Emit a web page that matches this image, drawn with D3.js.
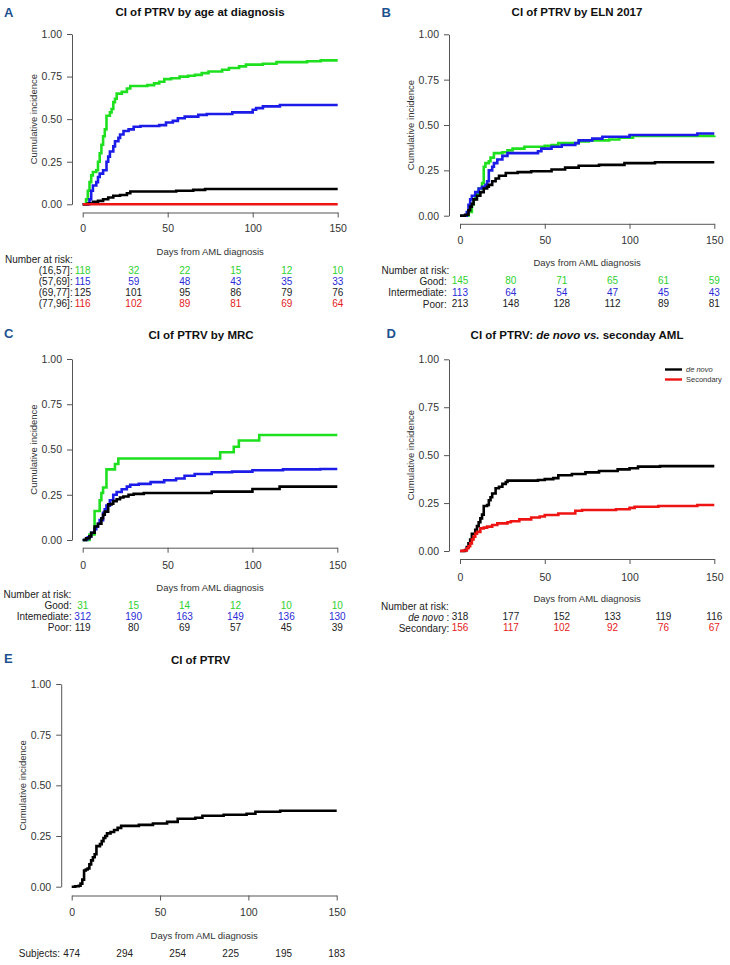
<!DOCTYPE html>
<html>
<head>
<meta charset="utf-8">
<script src="https://cdn.jsdelivr.net/npm/d3@7"></script>
<style>
  html, body { margin: 0; padding: 0; background: #fff; }
  svg { display: block; font-family: "Liberation Sans", Arial, Helvetica, sans-serif; }
</style>
</head>
<body>
<div id="chart"></div>
<script>
// ---- shared ticks ----
const yTicks = [0, 0.25, 0.5, 0.75, 1];
const xTicks = [0, 50, 100, 150];
const riskTimes = [0, 30, 60, 90, 120, 150];

// ---- A: age at diagnosis ----
const ageGroups = ["(16,57]", "(57,69]", "(69,77]", "(77,96]"];
const ageCurve1657 = [[0,0],[2,0.03],[3,0.08],[4,0.13],[5,0.17],[6,0.19],[8,0.2],[9,0.25],[10,0.3],[11,0.35],[12,0.4],[13,0.44],[14,0.52],[16,0.54],[17,0.56],[18,0.6],[19,0.62],[20,0.65],[23,0.66],[26,0.68],[28,0.695],[38,0.7],[42,0.71],[45,0.72],[48,0.735],[52,0.74],[57,0.75],[62,0.755],[66,0.76],[70,0.77],[74,0.78],[82,0.79],[86,0.8],[92,0.81],[96,0.82],[106,0.825],[114,0.835],[132,0.84],[140,0.845],[150,0.845]];
const ageCurve5769 = [[0,0],[4,0.03],[5,0.08],[6,0.11],[8,0.13],[9,0.16],[10,0.18],[12,0.2],[14,0.25],[15,0.28],[16,0.31],[18,0.34],[19,0.37],[21,0.39],[22,0.41],[24,0.43],[27,0.44],[30,0.455],[34,0.46],[45,0.465],[49,0.48],[53,0.49],[56,0.505],[60,0.515],[68,0.525],[73,0.53],[88,0.54],[100,0.555],[102,0.565],[106,0.575],[116,0.583],[150,0.583]];
const ageCurve6977 = [[0,0],[3,0.005],[6,0.015],[9,0.02],[12,0.03],[15,0.04],[18,0.05],[22,0.055],[26,0.065],[28,0.075],[55,0.08],[65,0.085],[72,0.09],[150,0.09]];
const ageCurve7796 = [[0,0],[150,0]];
const ageRisk1657 = [118, 32, 22, 15, 12, 10];
const ageRisk5769 = [115, 59, 48, 43, 35, 33];
const ageRisk6977 = [125, 101, 95, 86, 79, 76];
const ageRisk7796 = [116, 102, 89, 81, 69, 64];

// ---- B: ELN 2017 ----
const elnGroups = ["Good", "Intermediate", "Poor"];
const elnCurveGood = [[0,0],[5,0.02],[7,0.06],[8,0.09],[9,0.12],[11,0.15],[13,0.18],[14,0.27],[15,0.29],[17,0.3],[18,0.32],[20,0.345],[25,0.35],[28,0.36],[31,0.37],[38,0.38],[50,0.385],[54,0.39],[58,0.4],[70,0.41],[76,0.415],[88,0.42],[94,0.43],[102,0.44],[150,0.442]];
const elnCurveInt = [[0,0],[4,0.02],[5,0.06],[6,0.09],[7,0.11],[9,0.13],[11,0.15],[13,0.16],[15,0.17],[16,0.19],[17,0.25],[19,0.27],[20,0.29],[22,0.31],[25,0.33],[28,0.345],[46,0.355],[48,0.37],[54,0.38],[60,0.39],[68,0.4],[70,0.415],[78,0.425],[84,0.435],[100,0.445],[140,0.453],[150,0.453]];
const elnCurvePoor = [[0,0],[3,0.005],[5,0.03],[6,0.05],[7,0.065],[8,0.09],[10,0.11],[12,0.13],[14,0.15],[16,0.16],[17,0.17],[19,0.19],[21,0.205],[23,0.22],[27,0.235],[34,0.24],[42,0.245],[54,0.255],[62,0.265],[70,0.275],[82,0.28],[97,0.29],[115,0.295],[150,0.295]];
const elnRiskGood = [145, 80, 71, 65, 61, 59];
const elnRiskInt = [113, 64, 54, 47, 45, 43];
const elnRiskPoor = [213, 148, 128, 112, 89, 81];

// ---- C: MRC ----
const mrcGroups = ["Good", "Intemediate", "Poor"];
const mrcCurveGood = [[0,0],[4,0.03],[7,0.16],[10,0.22],[11,0.26],[12,0.29],[14,0.39],[19,0.42],[21,0.45],[81,0.485],[89,0.515],[92,0.55],[104,0.58],[150,0.58]];
const mrcCurveInt = [[0,0],[2,0.005],[3,0.015],[4,0.02],[5,0.04],[7,0.06],[8,0.075],[9,0.09],[10,0.11],[12,0.15],[13,0.17],[14,0.19],[16,0.22],[18,0.25],[20,0.265],[23,0.28],[26,0.295],[28,0.305],[33,0.31],[40,0.32],[48,0.33],[55,0.34],[60,0.355],[66,0.365],[76,0.374],[88,0.378],[100,0.385],[118,0.39],[140,0.392],[150,0.392]];
const mrcCurvePoor = [[0,0],[2,0.01],[4,0.02],[5,0.04],[7,0.075],[9,0.09],[11,0.12],[12,0.14],[13,0.157],[15,0.197],[17,0.2],[18,0.215],[20,0.225],[22,0.235],[24,0.24],[27,0.25],[30,0.255],[36,0.26],[76,0.267],[100,0.282],[116,0.295],[150,0.295]];
const mrcRiskGood = [31, 15, 14, 12, 10, 10];
const mrcRiskInt = [312, 190, 163, 149, 136, 130];
const mrcRiskPoor = [119, 80, 69, 57, 45, 39];

// ---- D: de novo vs secondary ----
const originGroups = ["de novo", "Secondary"];
const originCurveDeNovo = [[0,0],[3,0.005],[4,0.02],[5,0.04],[6,0.06],[7,0.09],[9,0.11],[10,0.13],[11,0.15],[12,0.17],[13,0.19],[14,0.235],[16,0.24],[17,0.265],[18,0.28],[19,0.3],[21,0.327],[23,0.335],[25,0.35],[27,0.36],[28,0.367],[46,0.37],[50,0.375],[55,0.38],[58,0.395],[66,0.402],[74,0.41],[82,0.417],[93,0.426],[100,0.432],[105,0.44],[118,0.443],[150,0.443]];
const originCurveSecondary = [[0,0],[2,0.003],[4,0.014],[5,0.025],[6,0.04],[7,0.06],[8,0.075],[9,0.09],[10,0.1],[12,0.118],[14,0.122],[16,0.127],[19,0.136],[22,0.144],[28,0.15],[30,0.155],[35,0.165],[42,0.175],[47,0.18],[50,0.188],[58,0.196],[68,0.21],[72,0.214],[92,0.218],[100,0.225],[103,0.231],[117,0.235],[140,0.24],[150,0.24]];
const originRiskDeNovo = [318, 177, 152, 133, 119, 116];
const originRiskSecondary = [156, 117, 102, 92, 76, 67];

// ---- E: all patients ----
const allCurve = [[0,0],[2,0.002],[4,0.005],[5,0.015],[6,0.035],[7,0.08],[8,0.085],[9,0.09],[10,0.11],[11,0.13],[12,0.145],[13,0.16],[14,0.2],[16,0.21],[17,0.225],[18,0.24],[19,0.25],[20,0.263],[22,0.27],[24,0.28],[26,0.29],[28,0.3],[38,0.305],[46,0.312],[54,0.32],[60,0.335],[70,0.34],[74,0.35],[86,0.355],[99,0.36],[104,0.37],[118,0.375],[150,0.375]];
const allRisk = [474, 294, 254, 225, 195, 183];

const colors = { green: '#1fe01f', blue: '#1c1ce8', black: '#000000', red: '#ee1414' };
const textColors = { green: '#2fd22f', blue: '#2a2ad8', black: '#222222', red: '#e42020' };

// panel layouts (pixels)
const panels = [
  { letter: 'A', letterX: 4, letterY: 12, title: [['CI of PTRV by age at diagnosis', false]], titleX: 200, titleY: 11.5,
    x0: 82.7, x1: 337.7, y0: 204.3, y1: 34, yAxisX: 72, xAxisY: 212.5, tickLabelY: 228.3, xLabelY: 251.8, yLabelX: 33.3,
    headerX: 5, headerY: 259, rowY: 270, rowStep: 11.1, rowLabelRight: 72.7, header: 'Number at risk:',
    series: [
      { name: ageGroups[0], curve: ageCurve1657, risk: ageRisk1657, color: 'green' },
      { name: ageGroups[1], curve: ageCurve5769, risk: ageRisk5769, color: 'blue' },
      { name: ageGroups[2], curve: ageCurve6977, risk: ageRisk6977, color: 'black' },
      { name: ageGroups[3], curve: ageCurve7796, risk: ageRisk7796, color: 'red' }
    ] },
  { letter: 'B', letterX: 381.5, letterY: 12, title: [['CI of PTRV by ELN 2017', false]], titleX: 577, titleY: 11.5,
    x0: 460, x1: 714.3, y0: 215.7, y1: 34.3, yAxisX: 449, xAxisY: 223.8, tickLabelY: 240.5, xLabelY: 262.7, yLabelX: 410.3,
    headerX: 381.5, headerY: 270, rowY: 280.9, rowStep: 11.4, rowLabelRight: 446.7, header: 'Number at risk:',
    series: [
      { name: elnGroups[0], curve: elnCurveGood, risk: elnRiskGood, color: 'green' },
      { name: elnGroups[1], curve: elnCurveInt, risk: elnRiskInt, color: 'blue' },
      { name: elnGroups[2], curve: elnCurvePoor, risk: elnRiskPoor, color: 'black' }
    ] },
  { letter: 'C', letterX: 4, letterY: 333.7, title: [['CI of PTRV by MRC', false]], titleX: 201, titleY: 335.3,
    x0: 82.7, x1: 337.3, y0: 540, y1: 359, yAxisX: 72, xAxisY: 547.7, tickLabelY: 565, xLabelY: 587.3, yLabelX: 33.3,
    headerX: 3.5, headerY: 594.3, rowY: 605, rowStep: 11, rowLabelRight: 71.7, header: 'Number at risk:',
    series: [
      { name: mrcGroups[0], curve: mrcCurveGood, risk: mrcRiskGood, color: 'green' },
      { name: mrcGroups[1], curve: mrcCurveInt, risk: mrcRiskInt, color: 'blue' },
      { name: mrcGroups[2], curve: mrcCurvePoor, risk: mrcRiskPoor, color: 'black' }
    ] },
  { letter: 'D', letterX: 386.5, letterY: 333.7, title: [['CI of PTRV: ', false], ['de novo', true], [' ', false], ['vs.', true], [' seconday AML', false]], titleX: 577, titleY: 335.3,
    x0: 460, x1: 714.3, y0: 551, y1: 359.3, yAxisX: 449, xAxisY: 559, tickLabelY: 576.7, xLabelY: 598.3, yLabelX: 410.3,
    headerX: 381, headerY: 606, rowY: 616.5, rowStep: 11, rowLabelRight: 449.3, header: 'Number at risk:',
    legend: { x: 665, y: 369.5, step: 10, len: 17 },
    series: [
      { name: originGroups[0], curve: originCurveDeNovo, risk: originRiskDeNovo, color: 'black', italic: true },
      { name: originGroups[1], curve: originCurveSecondary, risk: originRiskSecondary, color: 'red' }
    ] },
  { letter: 'E', letterX: 4, letterY: 658.7, title: [['CI of PTRV', false]], titleX: 200.5, titleY: 660.3,
    x0: 71.7, x1: 336.7, y0: 886.7, y1: 684, yAxisX: 61.2, xAxisY: 895.5, tickLabelY: 911.7, xLabelY: 935, yLabelX: 22.2,
    header: null, rowY: 953.3, rowStep: 11, rowLabelRight: 60,
    series: [
      { name: 'Subjects', curve: allCurve, risk: allRisk, color: 'black', textColor: 'black' }
    ] }
];

const svg = d3.select('#chart').append('svg')
  .attr('width', 730)
  .attr('height', 965);

function drawPanel(p) {
  const g = svg.append('g');
  const x = d3.scaleLinear().domain([0, 150]).range([p.x0, p.x1]);
  const y = d3.scaleLinear().domain([0, 1]).range([p.y0, p.y1]);

  // panel letter
  g.append('text')
    .attr('x', p.letterX).attr('y', p.letterY)
    .attr('dominant-baseline', 'central')
    .style('font-size', '13px').style('font-weight', 'bold')
    .attr('fill', '#1d5290')
    .text(p.letter);

  // title
  const t = g.append('text')
    .attr('x', p.titleX).attr('y', p.titleY)
    .attr('text-anchor', 'middle')
    .attr('dominant-baseline', 'central')
    .style('font-size', '11.5px').style('font-weight', 'bold')
    .attr('fill', '#111');
  p.title.forEach(([s, it]) => {
    t.append('tspan').style('font-style', it ? 'italic' : 'normal').text(s);
  });

  // axes
  const yAxis = g.append('g')
    .attr('transform', `translate(${p.yAxisX},0)`)
    .call(d3.axisLeft(y).tickValues(yTicks).tickFormat(d3.format('.2f')).tickSize(5).tickSizeOuter(0).tickPadding(5));
  const xAxis = g.append('g')
    .attr('transform', `translate(0,${p.xAxisY})`)
    .call(d3.axisBottom(x).tickValues(xTicks).tickSize(5).tickSizeOuter(0));
  [xAxis, yAxis].forEach(a => {
    a.select('.domain').attr('stroke', '#555');
    a.selectAll('.tick line').attr('stroke', '#555');
    a.selectAll('.tick text')
      .attr('fill', '#333')
      .style('font-size', '10.5px')
      .style('font-family', '"Liberation Sans", Arial, sans-serif');
  });
  xAxis.selectAll('.tick text')
    .attr('y', p.tickLabelY - p.xAxisY)
    .attr('dy', null)
    .attr('dominant-baseline', 'central');

  // axis titles
  g.append('text')
    .attr('transform', `translate(${p.yLabelX},${(p.y0 + p.y1) / 2}) rotate(-90)`)
    .attr('text-anchor', 'middle')
    .attr('dominant-baseline', 'central')
    .style('font-size', '9.5px')
    .attr('fill', '#333')
    .text('Cumulative incidence');
  g.append('text')
    .attr('x', (p.x0 + p.x1) / 2).attr('y', p.xLabelY)
    .attr('text-anchor', 'middle')
    .attr('dominant-baseline', 'central')
    .style('font-size', '9.5px')
    .attr('fill', '#333')
    .text('Days from AML diagnosis');

  // curves
  const line = d3.line()
    .x(d => x(d[0]))
    .y(d => y(d[1]))
    .curve(d3.curveStepAfter);
  p.series.forEach(s => {
    g.append('path')
      .datum(s.curve)
      .attr('d', line)
      .attr('fill', 'none')
      .attr('stroke', colors[s.color])
      .attr('stroke-width', 2.6);
  });

  // legend (panel D)
  if (p.legend) {
    p.series.forEach((s, i) => {
      const ly = p.legend.y + i * p.legend.step;
      g.append('line')
        .attr('x1', p.legend.x).attr('x2', p.legend.x + p.legend.len)
        .attr('y1', ly).attr('y2', ly)
        .attr('stroke', colors[s.color]).attr('stroke-width', 2.4);
      g.append('text')
        .attr('x', p.legend.x + p.legend.len + 4).attr('y', ly)
        .attr('dominant-baseline', 'central')
        .style('font-size', '7.5px')
        .style('font-style', s.italic ? 'italic' : 'normal')
        .attr('fill', '#333')
        .text(s.name);
    });
  }

  // numbers at risk
  if (p.header) {
    g.append('text')
      .attr('x', p.headerX).attr('y', p.headerY)
      .attr('dominant-baseline', 'central')
      .style('font-size', '10px')
      .attr('fill', '#222')
      .text(p.header);
  }
  p.series.forEach((s, i) => {
    const ry = p.rowY + i * p.rowStep;
    const lbl = g.append('text')
      .attr('x', p.rowLabelRight).attr('y', ry)
      .attr('text-anchor', 'end')
      .attr('dominant-baseline', 'central')
      .style('font-size', '10px')
      .attr('fill', '#222');
    lbl.append('tspan').style('font-style', s.italic ? 'italic' : 'normal').text(s.name);
    lbl.append('tspan').text(s.italic ? ' :' : ':');
    g.selectAll(null)
      .data(s.risk)
      .enter()
      .append('text')
      .attr('x', (d, j) => x(riskTimes[j]))
      .attr('y', ry)
      .attr('text-anchor', 'middle')
      .attr('dominant-baseline', 'central')
      .style('font-size', '10px')
      .attr('fill', textColors[s.textColor || s.color])
      .text(d => d);
  });
}

panels.forEach(drawPanel);
</script>
</body>
</html>
